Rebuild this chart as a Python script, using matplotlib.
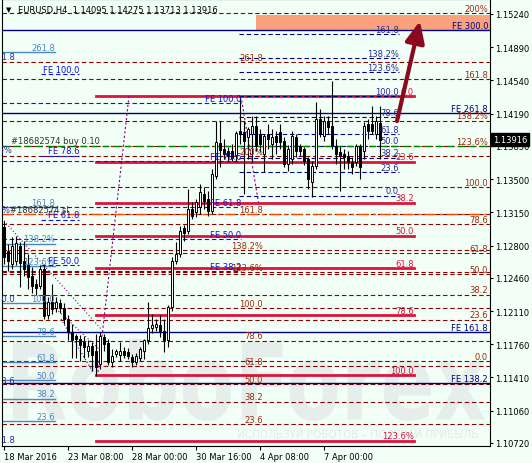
import matplotlib.pyplot as plt
import matplotlib.transforms as mtransforms
from matplotlib.patches import Rectangle, PathPatch
from matplotlib.textpath import TextPath
from matplotlib.font_manager import FontProperties

plt.rcParams['font.family'] = 'DejaVu Sans'
plt.rcParams['font.size'] = 6

# EURUSD H4 candles, 18 Mar - 8 Apr 2016
opens = [1.1300, 1.1274, 1.1261, 1.1264, 1.1280, 1.1264, 1.1260, 1.1248, 1.1240, 1.1237,
         1.1255, 1.1207, 1.1221, 1.1214, 1.1219, 1.1214, 1.1203, 1.1189, 1.1185, 1.1182,
         1.1178, 1.1169, 1.1174, 1.1169, 1.1155, 1.1184, 1.1177, 1.1157, 1.1166, 1.1165,
         1.1169, 1.1168, 1.1163, 1.1157, 1.1162, 1.1169, 1.1180, 1.1193, 1.1194, 1.1196,
         1.1190, 1.1180, 1.1215, 1.1264, 1.1271, 1.1298, 1.1295, 1.1319, 1.1315, 1.1321,
         1.1334, 1.1329, 1.1316, 1.1353, 1.1388, 1.1382, 1.1380, 1.1380, 1.1375, 1.1401,
         1.1400, 1.1394, 1.1398, 1.1406, 1.1398, 1.1377, 1.1398, 1.1387, 1.1395, 1.1400,
         1.1390, 1.1366, 1.1371, 1.1394, 1.1385, 1.1382, 1.1371, 1.1347, 1.1364, 1.1413,
         1.1395, 1.1411, 1.1406, 1.1385, 1.1379, 1.1377, 1.1374, 1.1368, 1.1368, 1.1385,
         1.1380, 1.1408, 1.1408, 1.1398, 1.14095]
highs = [1.1306, 1.1282, 1.1289, 1.1290, 1.1284, 1.1285, 1.1271, 1.1257, 1.1245, 1.1260,
         1.1259, 1.1226, 1.1240, 1.1226, 1.1224, 1.1220, 1.1207, 1.1197, 1.1187, 1.1186,
         1.1185, 1.1180, 1.1178, 1.1187, 1.1189, 1.1187, 1.1182, 1.1171, 1.1171, 1.1178,
         1.1173, 1.1172, 1.1166, 1.1167, 1.1173, 1.1182, 1.1221, 1.1208, 1.1203, 1.1207,
         1.1203, 1.1217, 1.1268, 1.1284, 1.1301, 1.1302, 1.1340, 1.1326, 1.1329, 1.1345,
         1.1342, 1.1338, 1.1361, 1.1411, 1.1411, 1.1392, 1.1384, 1.1387, 1.1401, 1.1438,
         1.1411, 1.1405, 1.1416, 1.1416, 1.1403, 1.1398, 1.1408, 1.1403, 1.1401, 1.1408,
         1.1394, 1.1386, 1.1401, 1.1398, 1.1387, 1.1384, 1.1373, 1.1369, 1.1431, 1.1424,
         1.1416, 1.1416, 1.1453, 1.1392, 1.1385, 1.1382, 1.1380, 1.1373, 1.1387, 1.1387,
         1.1410, 1.1413, 1.1427, 1.1416, 1.14275]
lows = [1.1261, 1.1253, 1.1255, 1.1260, 1.1236, 1.1248, 1.1234, 1.1230, 1.1228, 1.1234,
        1.1203, 1.1203, 1.1208, 1.1210, 1.1209, 1.1197, 1.1180, 1.1161, 1.1161, 1.1158,
        1.1161, 1.1163, 1.1148, 1.1143, 1.1150, 1.1169, 1.1154, 1.1152, 1.1163, 1.1158,
        1.1161, 1.1160, 1.1152, 1.1154, 1.1158, 1.1160, 1.1176, 1.1188, 1.1190, 1.1184,
        1.1168, 1.1173, 1.1211, 1.1261, 1.1268, 1.1285, 1.1292, 1.1308, 1.1310, 1.1313,
        1.1319, 1.1311, 1.1313, 1.1350, 1.1363, 1.1371, 1.1368, 1.1369, 1.1369, 1.1387,
        1.1334, 1.1371, 1.1368, 1.1380, 1.1379, 1.1358, 1.1382, 1.1371, 1.1377, 1.1382,
        1.1363, 1.1359, 1.1366, 1.1373, 1.1374, 1.1365, 1.1340, 1.1331, 1.1361, 1.1394,
        1.1390, 1.1398, 1.1382, 1.1366, 1.1338, 1.1361, 1.1361, 1.1355, 1.1364, 1.1350,
        1.1371, 1.1392, 1.1398, 1.1392, 1.13713]
closes = [1.1268, 1.1264, 1.1280, 1.1283, 1.1262, 1.1255, 1.1247, 1.1237, 1.1235, 1.1255,
          1.1206, 1.1221, 1.1213, 1.1221, 1.1214, 1.1203, 1.1189, 1.1181, 1.1182, 1.1175,
          1.1173, 1.1174, 1.1165, 1.1152, 1.1185, 1.1176, 1.1157, 1.1164, 1.1169, 1.1169,
          1.1165, 1.1164, 1.1157, 1.1164, 1.1171, 1.1180, 1.1193, 1.1196, 1.1197, 1.1190,
          1.1180, 1.1215, 1.1264, 1.1271, 1.1295, 1.1293, 1.1319, 1.1311, 1.1326, 1.1336,
          1.1327, 1.1316, 1.1355, 1.1389, 1.1381, 1.1377, 1.1374, 1.1372, 1.1399, 1.1398,
          1.1390, 1.1403, 1.1406, 1.1385, 1.1387, 1.1395, 1.1392, 1.1394, 1.1389, 1.1389,
          1.1366, 1.1382, 1.1395, 1.1380, 1.1380, 1.1369, 1.1350, 1.1364, 1.1413, 1.1398,
          1.1411, 1.1405, 1.1385, 1.1377, 1.1374, 1.1373, 1.1368, 1.1363, 1.1385, 1.1363,
          1.1406, 1.1401, 1.1401, 1.1411, 1.13916]

date_ticks = [0, 16, 32, 48, 64, 80]
date_labels = ['18 Mar 2016', '23 Mar 08:00', '28 Mar 00:00', '30 Mar 16:00', '4 Apr 08:00', '7 Apr 00:00']
price_ticks = [1.15240, 1.14890, 1.14540, 1.14190, 1.13850, 1.13500, 1.13150,
               1.12800, 1.12460, 1.12110, 1.11760, 1.11410, 1.11060, 1.10720]

# fibo ratios and their captions
fib_ratios = [0.0, 0.236, 0.382, 0.5, 0.618, 0.786, 1.0, 1.236, 1.382, 1.618, 2.0, 2.618]
fib_names = ['0.0', '23.6', '38.2', '50.0', '61.8', '78.6', '100.0', '123.6%', '138.2%', '161.8', '200%', '261.8']

# anchors (price at 0%, price at 100%)
fib_right = (1.11584, 1.13417)     # maroon, labels at the right edge
fib_left = (1.10541, 1.12142)      # maroon, labels mid chart
fib_red = (1.14376, 1.11436)
fib_navy = (1.13326, 1.14376)
fib_steel = (1.10562, 1.12195)

fe_ratios = [0.382, 0.5, 0.618, 0.786, 1.0]
fe_mid = (1.11436, 1.14302)
fe_left = (1.10583, 1.14608)
fe_solid_prices = [1.15071, 1.14197, 1.11889, 1.11352]
fe_solid_names = ['FE 300.0', 'FE 261.8', 'FE 161.8', 'FE 138.2']

# labels of an older grid, mostly scrolled off the left edge
leftcut_prices = [1.14745, 1.13765, 1.13133, 1.12195, 1.11331, 1.10709]
leftcut_names = ['161.8', '123.6%', '138.2%', '100.0', '23.6', '161.8']
leftcut_x = [2.75, 1.9, 1.5, 2.75, 2.75, 2.75]

buy_price = 1.13850
sl_price = 1.13133
box_bounds = (1.15071, 1.15230)
last_price = 1.13916

bg = '#f2fff6'
maroon = '#8b0000'
maroon_txt = '#9a2a10'
navy = '#000080'
blue = '#1010e0'
steel = '#4a86c0'
crimson = '#dc143c'
purple = '#8b008b'

fig = plt.figure(figsize=(5.32, 4.64), dpi=100, facecolor=bg)
ax = fig.add_axes([2 / 532, 17 / 464, 488 / 532, 447 / 464], facecolor=bg)
xmin, xmax = -0.5, 121.5
ax.set_xlim(xmin, xmax)
ax.set_ylim(1.10688, 1.15398)
dash = (0, (4, 2.5))


def label(x, y, s, color, ha='right'):
    ax.annotate(s, xy=(x, y), xytext=(0, 0.3), textcoords='offset points',
                ha=ha, va='bottom', color=color, fontsize=6, zorder=6,
                annotation_clip=False, clip_on=True)


def fibo(anchor, idx, x0, x1, color, ls, lw, txt_color, lab_x=None):
    p0, p100 = anchor
    if lab_x is None:
        lab_x = x1
    for k in idx:
        p = p0 + fib_ratios[k] * (p100 - p0)
        ax.plot([x0, x1], [p, p], color=color, ls=ls, lw=lw, zorder=2)
        label(lab_x, p, fib_names[k], txt_color)


# watermark
tp = TextPath((0, 0), 'RoboForex', size=100, prop=FontProperties(family='DejaVu Sans', weight='bold'))
bb = tp.get_extents()
tr = mtransforms.Affine2D().translate(-bb.x0, -bb.y0).scale(472 / bb.width, 82 / bb.height).translate(13, 42)
ax.add_artist(PathPatch(tp, transform=tr, facecolor='#e5eeeb', lw=0, zorder=0.5))
ax.text(237 / 532, 1 - 435 / 464, 'ИСПОЛЬЗУЙ РОБОТОВ – ПОЛУЧАЙ ПРИБЫЛЬ', transform=fig.transFigure,
        fontsize=7.5, color='#e2ebe8', va='center', zorder=0.6)

# target zone
ax.add_patch(Rectangle((63, box_bounds[0]), 70, box_bounds[1] - box_bounds[0],
                       facecolor='#fba27c', edgecolor='none', zorder=1))

# fibo grids
fibo(fib_right, range(0, 11), xmin, xmax, maroon, dash, 0.8, maroon_txt, lab_x=121)
fibo(fib_left, range(0, 12), xmin, xmax, maroon, dash, 0.8, maroon_txt, lab_x=64.75)
fibo(fib_red, range(0, 8), 23, 102.5, crimson, '-', 2, crimson)
fibo(fib_navy, range(0, 10), 58.75, 98.75, navy, dash, 0.8, '#2a2a9a')
fibo(fib_steel, [1, 2, 3, 4, 5, 6, 7, 8, 9, 11], xmin, 12.75, steel, '-', 1, steel)

for anchor, x0, x1, rs in [(fe_mid, xmin, 59.25, fe_ratios), (fe_left, 9.25, 18.75, fe_ratios[1:])]:
    p0, p100 = anchor
    for r in rs:
        p = p0 + r * (p100 - p0)
        ax.plot([x0, x1], [p, p], color=blue, ls=dash, lw=0.8, zorder=2)
        label(x1, p, 'FE %.1f' % (r * 100), blue)

for p, s in zip(fe_solid_prices, fe_solid_names):
    ax.axhline(p, color=navy, lw=1, zorder=2)
    label(121, p, s, navy)

for p, s, x in zip(leftcut_prices, leftcut_names, leftcut_x):
    label(x, p, s, '#2a2a9a')

# orders
ax.axhline(buy_price, color='#008000', ls=(0, (5, 3)), lw=1, zorder=2)
label(1.75, buy_price, '#18682574 buy 0.10', '#303030', ha='left')
ax.axhline(sl_price, color='#ff4500', ls=(0, (8, 3, 2, 3)), lw=1, zorder=2)
label(1.6, sl_price, '#18682574 sl', '#303030', ha='left')

# trend lines
ax.plot([23.5, 31.25], [1.11468, 1.14376], color=purple, ls=(0, (2, 2)), lw=0.8, zorder=2)
ax.plot([59.25, 63.75], [1.14376, 1.13217], color=purple, ls=(0, (2, 2)), lw=0.8, zorder=2)
ax.plot([0, 24.25], [1.13060, 1.11921], color=purple, ls=(0, (1, 2)), lw=0.8, zorder=2)
ax.plot([13, 24.25], [1.12132, 1.11691], color=purple, ls=(0, (1, 2)), lw=0.8, zorder=2)
ax.plot([14.25, 22.25], [1.12026, 1.11468], color=blue, ls=(0, (1, 2)), lw=0.8, zorder=2)

# candles
for i in range(len(opens)):
    o, h, l, c = opens[i], highs[i], lows[i], closes[i]
    ax.vlines(i, l, h, color='black', lw=0.8, zorder=3)
    ax.bar(i, abs(c - o), bottom=min(o, c), width=0.65,
           color='white' if c >= o else 'black', edgecolor='black', lw=0.7, zorder=4)

# arrow
ax.annotate('', xy=(104, 1.15166), xytext=(98.25, 1.14112),
            arrowprops=dict(arrowstyle='-|>,head_length=1.0,head_width=0.45', lw=3,
                            color='#8b0a1e', mutation_scale=13, shrinkA=0, shrinkB=0), zorder=7)

# axes
ax.yaxis.tick_right()
ax.set_yticks(price_ticks)
ax.set_yticklabels(['%.5f' % p for p in price_ticks])
ax.set_xticks(date_ticks)
ax.set_xticklabels(date_labels)
plt.setp(ax.get_xticklabels(), ha='left')
ax.tick_params(axis='y', length=2.5, pad=1.5, labelsize=6, width=0.8)
ax.tick_params(axis='x', length=3, pad=1, labelsize=6, width=0.8)
for s in ax.spines.values():
    s.set_linewidth(0.8)
    s.set_color('black')

ax.annotate('%.5f' % last_price, xy=(1.0, last_price), xycoords=('axes fraction', 'data'),
            xytext=(2, 0), textcoords='offset points', ha='left', va='center', color='white',
            fontsize=6, zorder=10, annotation_clip=False,
            bbox=dict(boxstyle='square,pad=0.25', fc='black', ec='black'))

fig.text(6 / 532, 1 - 10 / 464, '▼', fontsize=5, va='center', color='black')
fig.text(18 / 532, 1 - 10 / 464, 'EURUSD,H4  1.14095 1.14275 1.13713 1.13916',
         fontsize=6, va='center', color='black')

fig.savefig('out.png', dpi=100, facecolor=bg)
